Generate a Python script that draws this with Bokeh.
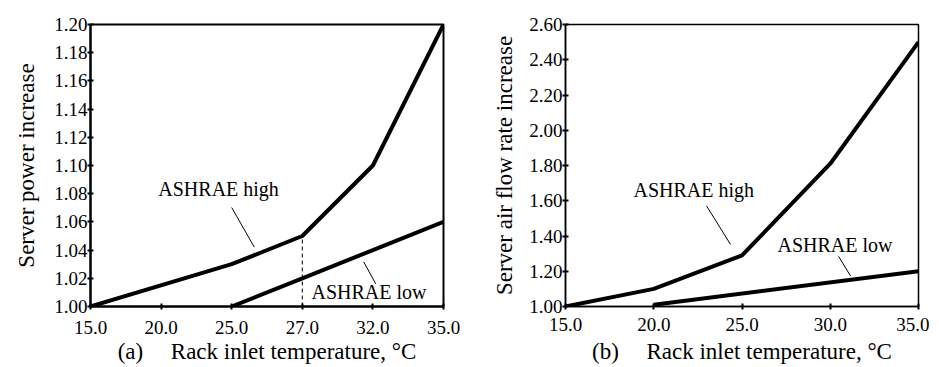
from bokeh.plotting import figure
from bokeh.layouts import row
from bokeh.models import FixedTicker, Range1d, Label, Segment, ColumnDataSource, PrintfTickFormatter
from bokeh.embed import file_html
from bokeh.resources import INLINE

FONT = "Liberation Serif"

# ---- Panel (a): server power increase ----
a_ticks = ["15.0", "20.0", "25.0", "27.0", "32.0", "35.0"]   # evenly spaced categories
a_high_x = [0, 2, 3, 4, 5]        # index into a_ticks (15, 25, 27, 32, 35)
a_high_y = [1.00, 1.03, 1.05, 1.10, 1.20]
a_low_x = [2, 3, 4, 5]            # 25, 27, 32, 35
a_low_y = [1.00, 1.02, 1.04, 1.06]
a_yticks = [1.00, 1.02, 1.04, 1.06, 1.08, 1.10, 1.12, 1.14, 1.16, 1.18, 1.20]
a_dash_x = [3, 3]
a_dash_y = [1.00, 1.05]

# ---- Panel (b): server air flow rate increase ----
b_xticks = [15, 20, 25, 30, 35]
b_high_x = [15, 20, 25, 30, 35]
b_high_y = [1.00, 1.10, 1.29, 1.81, 2.50]
b_low_x = [20, 35]
b_low_y = [1.01, 1.20]
b_yticks = [1.00, 1.20, 1.40, 1.60, 1.80, 2.00, 2.20, 2.40, 2.60]


def style(p, lw, x_tick_standoff, x_label_standoff, y_label_standoff):
    p.outline_line_color = "black"
    p.outline_line_width = lw
    p.grid.visible = False
    for ax in (p.xaxis[0], p.yaxis[0]):
        ax.axis_line_width = lw
        ax.axis_line_color = "black"
        ax.major_tick_line_width = 2
        ax.major_tick_line_color = "black"
        ax.major_tick_in = 3
        ax.major_tick_out = 3
        ax.minor_tick_line_color = None
        ax.major_label_text_font = FONT
        ax.major_label_text_font_size = "19px"
        ax.major_label_text_font_style = "normal"
        ax.major_label_text_color = "black"
        ax.axis_label_text_font = FONT
        ax.axis_label_text_font_size = "23px"
        ax.axis_label_text_font_style = "normal"
        ax.axis_label_text_color = "black"
    p.xaxis[0].major_label_standoff = x_tick_standoff
    p.yaxis[0].major_label_standoff = 0
    p.xaxis[0].axis_label_standoff = x_label_standoff
    p.yaxis[0].axis_label_standoff = y_label_standoff
    p.background_fill_color = "white"
    p.border_fill_color = "white"


def leader(p, x0, y0, x1, y1):
    src = ColumnDataSource(dict(x0=[x0], y0=[y0], x1=[x1], y1=[y1]))
    p.add_glyph(src, Segment(x0="x0", y0="y0", x1="x1", y1="y1",
                             line_color="black", line_width=1))


def label(p, x, y, t):
    p.add_layout(Label(x=x, y=y, text=t, text_font=FONT, text_font_size="20px",
                       text_font_style="normal",
                       text_color="black", text_align="left", text_baseline="middle"))


# Panel (a)
pa = figure(width=468, height=366,
            min_border_left=90, min_border_top=21, min_border_right=25, min_border_bottom=60,
            output_backend="svg", toolbar_location=None,
            x_range=Range1d(0, 5), y_range=Range1d(1.0, 1.2))
pa.line(a_high_x, a_high_y, line_color="black", line_width=4)
pa.line(a_low_x, a_low_y, line_color="black", line_width=4)
pa.line(a_dash_x, a_dash_y, line_color="black", line_width=1, line_dash="4 3")
pa.xaxis.ticker = FixedTicker(ticks=list(range(len(a_ticks))))
pa.xaxis.major_label_overrides = {i: t for i, t in enumerate(a_ticks)}
pa.yaxis.ticker = FixedTicker(ticks=a_yticks)
pa.yaxis.formatter = PrintfTickFormatter(format="%.2f")
pa.xaxis.axis_label = "(a)\u2003\u2009Rack inlet temperature, \u00b0C"
pa.yaxis.axis_label = "Server power increase"
style(pa, 2, 11, 2, 12)
label(pa, 0.96, 1.083, "ASHRAE high")
leader(pa, 2.0, 1.0702, 2.32, 1.0421)
label(pa, 3.13, 1.0105, "ASHRAE low")
leader(pa, 3.87, 1.0316, 4.04, 1.0161)

# Panel (b)
pb = figure(width=461, height=366,
            min_border_left=97, min_border_top=24, min_border_right=11, min_border_bottom=56,
            output_backend="svg", toolbar_location=None,
            x_range=Range1d(15, 35), y_range=Range1d(1.0, 2.6))
pb.line(b_high_x, b_high_y, line_color="black", line_width=4)
pb.line(b_low_x, b_low_y, line_color="black", line_width=4)
pb.xaxis.ticker = FixedTicker(ticks=b_xticks)
pb.xaxis.formatter = PrintfTickFormatter(format="%.1f")
pb.yaxis.ticker = FixedTicker(ticks=b_yticks)
pb.yaxis.formatter = PrintfTickFormatter(format="%.2f")
pb.xaxis.axis_label = "(b)\u2003\u2009Rack inlet temperature, \u00b0C"
pb.yaxis.axis_label = "Server air flow rate increase"
style(pb, 1.5, 8, 5, 9)
label(pb, 18.85, 1.660, "ASHRAE high")
leader(pb, 22.99, 1.571, 24.35, 1.352)
label(pb, 27.01, 1.347, "ASHRAE low")
leader(pb, 30.47, 1.285, 31.15, 1.173)

layout = row(pa, pb)
open("out.html", "w").write(file_html(layout, INLINE))
